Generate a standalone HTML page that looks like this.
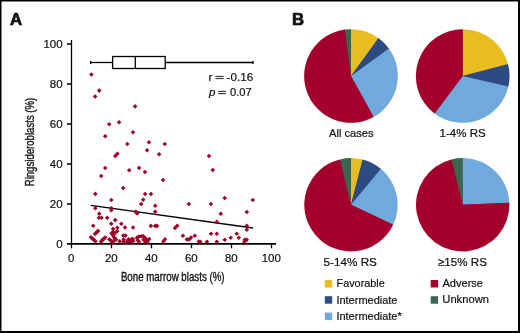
<!DOCTYPE html>
<html><head><meta charset="utf-8"><style>
html,body{margin:0;padding:0;background:#fff;}
svg{display:block;will-change:transform;}
text{font-family:"Liberation Sans",sans-serif;fill:#111;}
</style></head><body>
<svg width="520" height="333" viewBox="0 0 520 333">
<rect x="0" y="0" width="520" height="333" fill="#fff"/>
<path d="M0,0H520V333H0Z M1.5,1.5V331H518V1.5Z" fill="#000" fill-rule="evenodd"/>
<!-- axes -->
<g stroke="#000" fill="none">
<line x1="71.5" y1="40" x2="71.5" y2="248.3" stroke-width="1.3"/>
<line x1="67" y1="243.8" x2="276" y2="243.8" stroke-width="1.8"/>
<path d="M67,44H71.5M67,84H71.5M67,124H71.5M67,164H71.5M67,204H71.5" stroke-width="1.3"/>
<path d="M111.5,244V248.3M151.5,244V248.3M191.5,244V248.3M231.5,244V248.3M271.5,244V248.3" stroke-width="1.3"/>
</g>
<g font-size="11.5" text-anchor="end" stroke="#111" stroke-width="0.2">
<text x="62.6" y="48">100</text><text x="62.6" y="88">80</text><text x="62.6" y="128">60</text>
<text x="62.6" y="168">40</text><text x="62.6" y="208">20</text><text x="62.6" y="248">0</text>
</g>
<g font-size="11.5" text-anchor="middle" stroke="#111" stroke-width="0.2">
<text x="71.3" y="262.3">0</text><text x="111.3" y="262.3">20</text><text x="151.3" y="262.3">40</text>
<text x="191.3" y="262.3">60</text><text x="231.3" y="262.3">80</text><text x="271.3" y="262.3">100</text>
</g>
<text font-size="12.4" text-anchor="middle" stroke="#111" stroke-width="0.35" transform="translate(33.9 142) rotate(-90) scale(0.776 1)">Ringsideroblasts (%)</text>
<!-- box plot -->
<g stroke="#000" fill="none" stroke-width="1.3">
<line x1="90.5" y1="62.5" x2="112.5" y2="62.5"/>
<line x1="165.3" y1="62.5" x2="253" y2="62.5"/>
<rect x="112.6" y="56.5" width="52.6" height="12" fill="#fff"/>
<line x1="135.3" y1="56.5" x2="135.3" y2="68.5"/>
<line x1="90.6" y1="61" x2="90.6" y2="64"/>
<line x1="253" y1="61" x2="253" y2="64"/>
</g>
<g stroke="#111" stroke-width="0.95">
<path d="M215.6,76.4H223.5M215.6,78.6H223.5M218.1,91.4H225.9M218.1,93.6H225.9"/>
</g>
<text x="9.9" y="24.6" font-size="16.8" font-weight="bold" stroke="#111" stroke-width="0.7">A</text><text x="292.0" y="25.2" font-size="16.8" font-weight="bold" stroke="#111" stroke-width="0.7">B</text><text x="208.4" y="81" font-size="11.5" stroke="#111" stroke-width="0.2">r</text><text x="226.6" y="81" font-size="11.5" transform="translate(226.6 0) scale(1.015 1) translate(-226.6 0)" stroke="#111" stroke-width="0.2">-0.16</text><text x="209.0" y="96" font-size="11.5" font-style="italic" stroke="#111" stroke-width="0.2">p</text><text x="230" y="96" font-size="11.5" transform="translate(230 0) scale(0.97 1) translate(-230 0)" stroke="#111" stroke-width="0.2">0.07</text><text x="120.9" y="280.9" font-size="12.4" transform="translate(120.9 0) scale(0.785 1) translate(-120.9 0)" stroke="#111" stroke-width="0.35">Bone marrow blasts (%)</text><text x="329.0" y="137.3" font-size="11.5" transform="translate(329.0 0) scale(0.97 1) translate(-329.0 0)" stroke="#111" stroke-width="0.2">All cases</text><text x="439.6" y="137" font-size="11.5" stroke="#111" stroke-width="0.2">1-4% RS</text><text x="323.5" y="266" font-size="11.5" transform="translate(323.5 0) scale(1.02 1) translate(-323.5 0)" stroke="#111" stroke-width="0.2">5-14% RS</text><text x="438" y="266" font-size="11.5" transform="translate(438 0) scale(1.01 1) translate(-438 0)" stroke="#111" stroke-width="0.2">≥15% RS</text><text x="336.5" y="287.4" font-size="11.4" transform="translate(336.5 0) scale(0.955 1) translate(-336.5 0)" stroke="#111" stroke-width="0.2">Favorable</text><text x="336.4" y="303.6" font-size="11.4" transform="translate(336.4 0) scale(0.965 1) translate(-336.4 0)" stroke="#111" stroke-width="0.2">Intermediate</text><text x="336.4" y="319.8" font-size="11.4" transform="translate(336.4 0) scale(0.965 1) translate(-336.4 0)" stroke="#111" stroke-width="0.2">Intermediate*</text><text x="442.5" y="287.3" font-size="11.4" transform="translate(442.5 0) scale(0.97 1) translate(-442.5 0)" stroke="#111" stroke-width="0.2">Adverse</text><text x="442.3" y="303.4" font-size="11.4" transform="translate(442.3 0) scale(0.985 1) translate(-442.3 0)" stroke="#111" stroke-width="0.2">Unknown</text>
<line x1="90.8" y1="205.3" x2="253" y2="228" stroke="#000" stroke-width="1.3"/>
<g fill="#a00026"><path d="M91.4,72.2l2.3,2.3l-2.3,2.3l-2.3,-2.3z"/><path d="M99.3,88.3l2.3,2.3l-2.3,2.3l-2.3,-2.3z"/><path d="M95.1,94.2l2.3,2.3l-2.3,2.3l-2.3,-2.3z"/><path d="M135.1,104.1l2.3,2.3l-2.3,2.3l-2.3,-2.3z"/><path d="M109.2,122.0l2.3,2.3l-2.3,2.3l-2.3,-2.3z"/><path d="M119.1,119.9l2.3,2.3l-2.3,2.3l-2.3,-2.3z"/><path d="M133.0,130.0l2.3,2.3l-2.3,2.3l-2.3,-2.3z"/><path d="M105.2,133.9l2.3,2.3l-2.3,2.3l-2.3,-2.3z"/><path d="M127.3,141.7l2.3,2.3l-2.3,2.3l-2.3,-2.3z"/><path d="M115.3,153.7l2.3,2.3l-2.3,2.3l-2.3,-2.3z"/><path d="M117.4,151.5l2.3,2.3l-2.3,2.3l-2.3,-2.3z"/><path d="M105.2,165.7l2.3,2.3l-2.3,2.3l-2.3,-2.3z"/><path d="M149.0,140.0l2.3,2.3l-2.3,2.3l-2.3,-2.3z"/><path d="M164.8,141.7l2.3,2.3l-2.3,2.3l-2.3,-2.3z"/><path d="M147.1,147.9l2.3,2.3l-2.3,2.3l-2.3,-2.3z"/><path d="M159.1,152.0l2.3,2.3l-2.3,2.3l-2.3,-2.3z"/><path d="M129.2,168.0l2.3,2.3l-2.3,2.3l-2.3,-2.3z"/><path d="M139.1,165.6l2.3,2.3l-2.3,2.3l-2.3,-2.3z"/><path d="M145.0,169.7l2.3,2.3l-2.3,2.3l-2.3,-2.3z"/><path d="M163.0,177.7l2.3,2.3l-2.3,2.3l-2.3,-2.3z"/><path d="M101.2,173.7l2.3,2.3l-2.3,2.3l-2.3,-2.3z"/><path d="M209.0,153.7l2.3,2.3l-2.3,2.3l-2.3,-2.3z"/><path d="M212.8,167.7l2.3,2.3l-2.3,2.3l-2.3,-2.3z"/><path d="M95.3,191.6l2.3,2.3l-2.3,2.3l-2.3,-2.3z"/><path d="M111.3,197.7l2.3,2.3l-2.3,2.3l-2.3,-2.3z"/><path d="M95.3,205.9l2.3,2.3l-2.3,2.3l-2.3,-2.3z"/><path d="M111.3,205.9l2.3,2.3l-2.3,2.3l-2.3,-2.3z"/><path d="M111.3,208.0l2.3,2.3l-2.3,2.3l-2.3,-2.3z"/><path d="M99.2,211.5l2.3,2.3l-2.3,2.3l-2.3,-2.3z"/><path d="M123.2,185.7l2.3,2.3l-2.3,2.3l-2.3,-2.3z"/><path d="M145.1,191.7l2.3,2.3l-2.3,2.3l-2.3,-2.3z"/><path d="M151.0,191.7l2.3,2.3l-2.3,2.3l-2.3,-2.3z"/><path d="M143.2,197.4l2.3,2.3l-2.3,2.3l-2.3,-2.3z"/><path d="M141.2,201.7l2.3,2.3l-2.3,2.3l-2.3,-2.3z"/><path d="M155.2,203.5l2.3,2.3l-2.3,2.3l-2.3,-2.3z"/><path d="M155.2,209.5l2.3,2.3l-2.3,2.3l-2.3,-2.3z"/><path d="M135.6,209.4l2.3,2.3l-2.3,2.3l-2.3,-2.3z"/><path d="M137.2,211.2l2.3,2.3l-2.3,2.3l-2.3,-2.3z"/><path d="M136.5,210.0l2.3,2.3l-2.3,2.3l-2.3,-2.3z"/><path d="M188.9,201.7l2.3,2.3l-2.3,2.3l-2.3,-2.3z"/><path d="M210.9,201.7l2.3,2.3l-2.3,2.3l-2.3,-2.3z"/><path d="M224.7,195.7l2.3,2.3l-2.3,2.3l-2.3,-2.3z"/><path d="M252.8,197.7l2.3,2.3l-2.3,2.3l-2.3,-2.3z"/><path d="M220.8,211.5l2.3,2.3l-2.3,2.3l-2.3,-2.3z"/><path d="M246.8,209.7l2.3,2.3l-2.3,2.3l-2.3,-2.3z"/><path d="M216.8,219.6l2.3,2.3l-2.3,2.3l-2.3,-2.3z"/><path d="M246.8,223.5l2.3,2.3l-2.3,2.3l-2.3,-2.3z"/><path d="M246.8,227.5l2.3,2.3l-2.3,2.3l-2.3,-2.3z"/><path d="M211.0,231.4l2.3,2.3l-2.3,2.3l-2.3,-2.3z"/><path d="M216.8,231.4l2.3,2.3l-2.3,2.3l-2.3,-2.3z"/><path d="M236.7,231.4l2.3,2.3l-2.3,2.3l-2.3,-2.3z"/><path d="M238.8,235.5l2.3,2.3l-2.3,2.3l-2.3,-2.3z"/><path d="M230.7,235.5l2.3,2.3l-2.3,2.3l-2.3,-2.3z"/><path d="M224.8,237.4l2.3,2.3l-2.3,2.3l-2.3,-2.3z"/><path d="M244.8,237.4l2.3,2.3l-2.3,2.3l-2.3,-2.3z"/><path d="M246.8,237.4l2.3,2.3l-2.3,2.3l-2.3,-2.3z"/><path d="M244.4,239.5l2.3,2.3l-2.3,2.3l-2.3,-2.3z"/><path d="M206.9,239.5l2.3,2.3l-2.3,2.3l-2.3,-2.3z"/><path d="M216.8,239.5l2.3,2.3l-2.3,2.3l-2.3,-2.3z"/><path d="M200.3,239.5l2.3,2.3l-2.3,2.3l-2.3,-2.3z"/><path d="M98.9,215.5l2.3,2.3l-2.3,2.3l-2.3,-2.3z"/><path d="M101.6,215.5l2.3,2.3l-2.3,2.3l-2.3,-2.3z"/><path d="M107.2,215.5l2.3,2.3l-2.3,2.3l-2.3,-2.3z"/><path d="M93.2,223.5l2.3,2.3l-2.3,2.3l-2.3,-2.3z"/><path d="M95.0,231.6l2.3,2.3l-2.3,2.3l-2.3,-2.3z"/><path d="M96.1,230.5l2.3,2.3l-2.3,2.3l-2.3,-2.3z"/><path d="M97.2,229.4l2.3,2.3l-2.3,2.3l-2.3,-2.3z"/><path d="M98.1,228.7l2.3,2.3l-2.3,2.3l-2.3,-2.3z"/><path d="M90.9,235.0l2.3,2.3l-2.3,2.3l-2.3,-2.3z"/><path d="M92.0,236.0l2.3,2.3l-2.3,2.3l-2.3,-2.3z"/><path d="M93.2,237.0l2.3,2.3l-2.3,2.3l-2.3,-2.3z"/><path d="M94.3,238.0l2.3,2.3l-2.3,2.3l-2.3,-2.3z"/><path d="M95.4,239.0l2.3,2.3l-2.3,2.3l-2.3,-2.3z"/><path d="M101.1,239.3l2.3,2.3l-2.3,2.3l-2.3,-2.3z"/><path d="M102.0,238.2l2.3,2.3l-2.3,2.3l-2.3,-2.3z"/><path d="M103.0,237.2l2.3,2.3l-2.3,2.3l-2.3,-2.3z"/><path d="M104.0,236.2l2.3,2.3l-2.3,2.3l-2.3,-2.3z"/><path d="M105.3,235.2l2.3,2.3l-2.3,2.3l-2.3,-2.3z"/><path d="M125.1,225.2l2.3,2.3l-2.3,2.3l-2.3,-2.3z"/><path d="M133.1,225.2l2.3,2.3l-2.3,2.3l-2.3,-2.3z"/><path d="M128.5,237.0l2.3,2.3l-2.3,2.3l-2.3,-2.3z"/><path d="M130.2,237.8l2.3,2.3l-2.3,2.3l-2.3,-2.3z"/><path d="M132.0,237.0l2.3,2.3l-2.3,2.3l-2.3,-2.3z"/><path d="M126.8,239.3l2.3,2.3l-2.3,2.3l-2.3,-2.3z"/><path d="M129.1,239.5l2.3,2.3l-2.3,2.3l-2.3,-2.3z"/><path d="M131.4,239.3l2.3,2.3l-2.3,2.3l-2.3,-2.3z"/><path d="M115.2,217.8l2.3,2.3l-2.3,2.3l-2.3,-2.3z"/><path d="M111.2,221.4l2.3,2.3l-2.3,2.3l-2.3,-2.3z"/><path d="M121.3,221.4l2.3,2.3l-2.3,2.3l-2.3,-2.3z"/><path d="M117.3,225.4l2.3,2.3l-2.3,2.3l-2.3,-2.3z"/><path d="M113.1,226.6l2.3,2.3l-2.3,2.3l-2.3,-2.3z"/><path d="M117.2,229.0l2.3,2.3l-2.3,2.3l-2.3,-2.3z"/><path d="M111.5,231.0l2.3,2.3l-2.3,2.3l-2.3,-2.3z"/><path d="M113.1,229.6l2.3,2.3l-2.3,2.3l-2.3,-2.3z"/><path d="M114.8,230.8l2.3,2.3l-2.3,2.3l-2.3,-2.3z"/><path d="M113.1,233.3l2.3,2.3l-2.3,2.3l-2.3,-2.3z"/><path d="M114.4,235.4l2.3,2.3l-2.3,2.3l-2.3,-2.3z"/><path d="M116.1,237.1l2.3,2.3l-2.3,2.3l-2.3,-2.3z"/><path d="M109.4,237.1l2.3,2.3l-2.3,2.3l-2.3,-2.3z"/><path d="M111.5,238.8l2.3,2.3l-2.3,2.3l-2.3,-2.3z"/><path d="M113.6,238.8l2.3,2.3l-2.3,2.3l-2.3,-2.3z"/><path d="M112.3,240.1l2.3,2.3l-2.3,2.3l-2.3,-2.3z"/><path d="M119.6,239.0l2.3,2.3l-2.3,2.3l-2.3,-2.3z"/><path d="M123.3,233.3l2.3,2.3l-2.3,2.3l-2.3,-2.3z"/><path d="M125.4,233.3l2.3,2.3l-2.3,2.3l-2.3,-2.3z"/><path d="M123.6,237.3l2.3,2.3l-2.3,2.3l-2.3,-2.3z"/><path d="M123.3,239.5l2.3,2.3l-2.3,2.3l-2.3,-2.3z"/><path d="M150.9,223.6l2.3,2.3l-2.3,2.3l-2.3,-2.3z"/><path d="M155.2,223.6l2.3,2.3l-2.3,2.3l-2.3,-2.3z"/><path d="M157.1,223.6l2.3,2.3l-2.3,2.3l-2.3,-2.3z"/><path d="M132.9,236.7l2.3,2.3l-2.3,2.3l-2.3,-2.3z"/><path d="M133.2,239.0l2.3,2.3l-2.3,2.3l-2.3,-2.3z"/><path d="M136.9,235.5l2.3,2.3l-2.3,2.3l-2.3,-2.3z"/><path d="M138.9,234.3l2.3,2.3l-2.3,2.3l-2.3,-2.3z"/><path d="M141.2,234.0l2.3,2.3l-2.3,2.3l-2.3,-2.3z"/><path d="M143.2,234.0l2.3,2.3l-2.3,2.3l-2.3,-2.3z"/><path d="M144.8,235.5l2.3,2.3l-2.3,2.3l-2.3,-2.3z"/><path d="M146.4,237.3l2.3,2.3l-2.3,2.3l-2.3,-2.3z"/><path d="M149.2,236.7l2.3,2.3l-2.3,2.3l-2.3,-2.3z"/><path d="M147.6,238.5l2.3,2.3l-2.3,2.3l-2.3,-2.3z"/><path d="M139.0,239.5l2.3,2.3l-2.3,2.3l-2.3,-2.3z"/><path d="M137.8,238.2l2.3,2.3l-2.3,2.3l-2.3,-2.3z"/><path d="M143.6,237.5l2.3,2.3l-2.3,2.3l-2.3,-2.3z"/><path d="M145.2,239.5l2.3,2.3l-2.3,2.3l-2.3,-2.3z"/><path d="M147.2,239.9l2.3,2.3l-2.3,2.3l-2.3,-2.3z"/><path d="M165.0,236.9l2.3,2.3l-2.3,2.3l-2.3,-2.3z"/><path d="M163.4,239.1l2.3,2.3l-2.3,2.3l-2.3,-2.3z"/><path d="M177.2,223.4l2.3,2.3l-2.3,2.3l-2.3,-2.3z"/><path d="M175.0,225.6l2.3,2.3l-2.3,2.3l-2.3,-2.3z"/><path d="M182.9,233.5l2.3,2.3l-2.3,2.3l-2.3,-2.3z"/><path d="M186.9,237.1l2.3,2.3l-2.3,2.3l-2.3,-2.3z"/><path d="M189.1,237.1l2.3,2.3l-2.3,2.3l-2.3,-2.3z"/><path d="M191.0,235.3l2.3,2.3l-2.3,2.3l-2.3,-2.3z"/><path d="M194.8,233.5l2.3,2.3l-2.3,2.3l-2.3,-2.3z"/><path d="M198.8,239.3l2.3,2.3l-2.3,2.3l-2.3,-2.3z"/></g>
<!-- pies -->
<circle cx="351" cy="76.0" r="46.050000000000004" fill="#a3002b"/>
<path d="M351,76.0 L350.35,29.15 A46.85,46.85 0 0 1 378.93,38.39 Z" fill="#e9bd1f"/>
<path d="M351,76.0 L378.41,38.00 A46.85,46.85 0 0 1 389.28,48.99 Z" fill="#2c4b80"/>
<path d="M351,76.0 L388.90,48.46 A46.85,46.85 0 0 1 373.57,117.05 Z" fill="#6fa9de"/>
<path d="M351,76.0 L373.57,117.05 A46.85,46.85 0 1 1 344.97,29.54 Z" fill="#a3002b"/>
<path d="M351,76.0 L344.97,29.54 A46.85,46.85 0 0 1 351.00,29.15 Z" fill="#37684f"/>
<circle cx="462.7" cy="76.0" r="46.050000000000004" fill="#a3002b"/>
<path d="M462.7,76.0 L462.70,29.15 A46.85,46.85 0 0 1 508.18,64.75 Z" fill="#e9bd1f"/>
<path d="M462.7,76.0 L508.02,64.11 A46.85,46.85 0 0 1 508.20,87.18 Z" fill="#2c4b80"/>
<path d="M462.7,76.0 L508.35,86.54 A46.85,46.85 0 0 1 434.50,113.42 Z" fill="#6fa9de"/>
<path d="M462.7,76.0 L434.50,113.42 A46.85,46.85 0 0 1 462.70,29.15 Z" fill="#a3002b"/>
<circle cx="351" cy="204.75" r="45.900000000000006" fill="#a3002b"/>
<path d="M351,204.75 L350.35,158.05 A46.7,46.7 0 0 1 363.17,159.66 Z" fill="#e9bd1f"/>
<path d="M351,204.75 L362.53,159.50 A46.7,46.7 0 0 1 381.39,169.29 Z" fill="#2c4b80"/>
<path d="M351,204.75 L380.89,168.87 A46.7,46.7 0 0 1 393.22,224.71 Z" fill="#6fa9de"/>
<path d="M351,204.75 L393.22,224.71 A46.7,46.7 0 1 1 339.86,159.40 Z" fill="#a3002b"/>
<path d="M351,204.75 L339.86,159.40 A46.7,46.7 0 0 1 351.00,158.05 Z" fill="#37684f"/>
<circle cx="462.7" cy="204.75" r="45.900000000000006" fill="#a3002b"/>
<path d="M462.7,204.75 L462.05,158.05 A46.7,46.7 0 0 1 509.36,202.71 Z" fill="#6fa9de"/>
<path d="M462.7,204.75 L509.36,202.71 A46.7,46.7 0 1 1 451.40,159.44 Z" fill="#a3002b"/>
<path d="M462.7,204.75 L451.40,159.44 A46.7,46.7 0 0 1 462.70,158.05 Z" fill="#37684f"/>
<g>
<rect x="324.8" y="280" width="7.4" height="7.5" fill="#e9bd1f"/>
<rect x="324.8" y="296.2" width="7.4" height="7.5" fill="#2c4b80"/>
<rect x="324.8" y="312.6" width="7.4" height="7.5" fill="#6fa9de"/>
<rect x="430.7" y="280" width="7.4" height="7.5" fill="#a3002b"/>
<rect x="430.7" y="296.2" width="7.4" height="7.5" fill="#37684f"/>
</g>
</svg>
</body></html>
